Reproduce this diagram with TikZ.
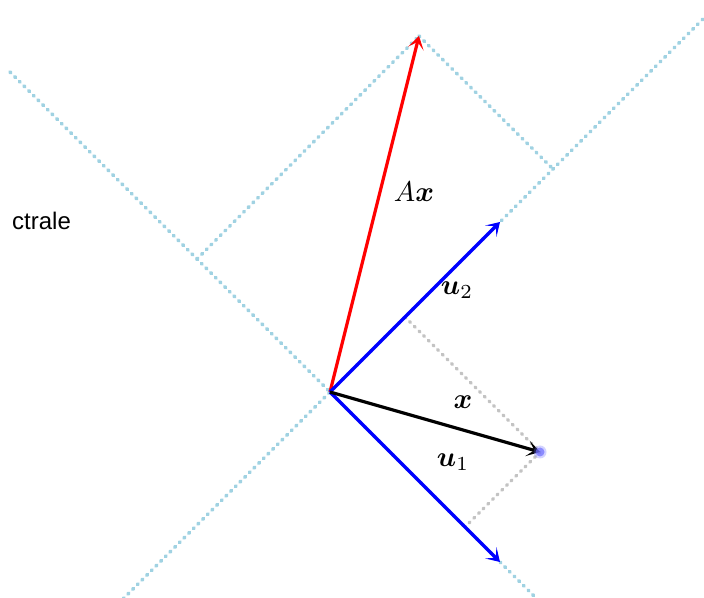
\documentclass[tikz,border=0pt]{standalone}
\usepackage{amsmath}
\usepackage{fontspec}
\newfontfamily\labelsans{Liberation Sans}
\usetikzlibrary{arrows.meta}
\definecolor{eigline}{RGB}{160,210,226}
\definecolor{projgray}{RGB}{195,195,195}
\definecolor{ptcol}{RGB}{110,110,255}
\tikzset{
  eig/.style={eigline, line width=3.6pt, line cap=round, dash pattern=on 1.2pt off 5.4pt},
  proj/.style={projgray, line width=3.4pt, line cap=round, dash pattern=on 1.2pt off 5.4pt},
  vec/.style={line width=3.2pt, -{Stealth[length=13pt,width=16pt,inset=7pt]}},
  lbl/.style={scale=2.85, inner sep=0pt},
}
\begin{document}
\begin{tikzpicture}[x=1pt,y=1pt]
\useasboundingbox (0,0) rectangle (704,597);
\clip (0,0) rectangle (704,597);
\node[font=\labelsans\fontsize{24}{28}\selectfont, anchor=west, inner sep=0pt] (txt) at (12,376) {ctrale};
\begin{scope}[shift={(330,205)}]
  \coordinate (O) at (0,0);
  \coordinate (U1) at (170,-170);
  \coordinate (U2) at (170,170);
  \coordinate (X) at (210,-60);
  \coordinate (P1) at (135,-135);
  \coordinate (P2) at (75,75);
  \coordinate (C1) at (-133,133);
  \coordinate (C2) at (223,223);
  \coordinate (AX) at (89,356);
  \coordinate (L1a) at (-320,320);
  \coordinate (L1b) at (230,-230);
  \coordinate (L2a) at (-230,-230);
  \coordinate (L2b) at (400,400);
  % eigen lines and parallelogram
  \draw[eig] (L1a) -- (L1b);
  \draw[eig] (L2a) -- (L2b);
  \draw[eig] (C1) -- (AX);
  \draw[eig] (AX) -- (C2);
  % projections
  \draw[proj] (P2) -- (X);
  \draw[proj] (X) -- (P1);
  % vectors
  \draw[vec, red] (O) -- (AX);
  \draw[vec, blue] (O) -- (U2);
  \draw[vec, blue] (O) -- (U1);
  \draw[vec, black] (O) -- (X);
  \fill[ptcol, opacity=0.3] (X) circle (6.5pt);
  \fill[ptcol, opacity=0.7] (X) circle (4.5pt);
  % labels
  \node[lbl] (lAx) at (84,200) {$A\boldsymbol{x}$};
  \node[lbl] (lu2) at (127,102) {$\boldsymbol{u}_2$};
  \node[lbl] (lx) at (133,-10) {$\boldsymbol{x}$};
  \node[lbl] (lu1) at (123,-70) {$\boldsymbol{u}_1$};
\end{scope}
\end{tikzpicture}
\end{document}
